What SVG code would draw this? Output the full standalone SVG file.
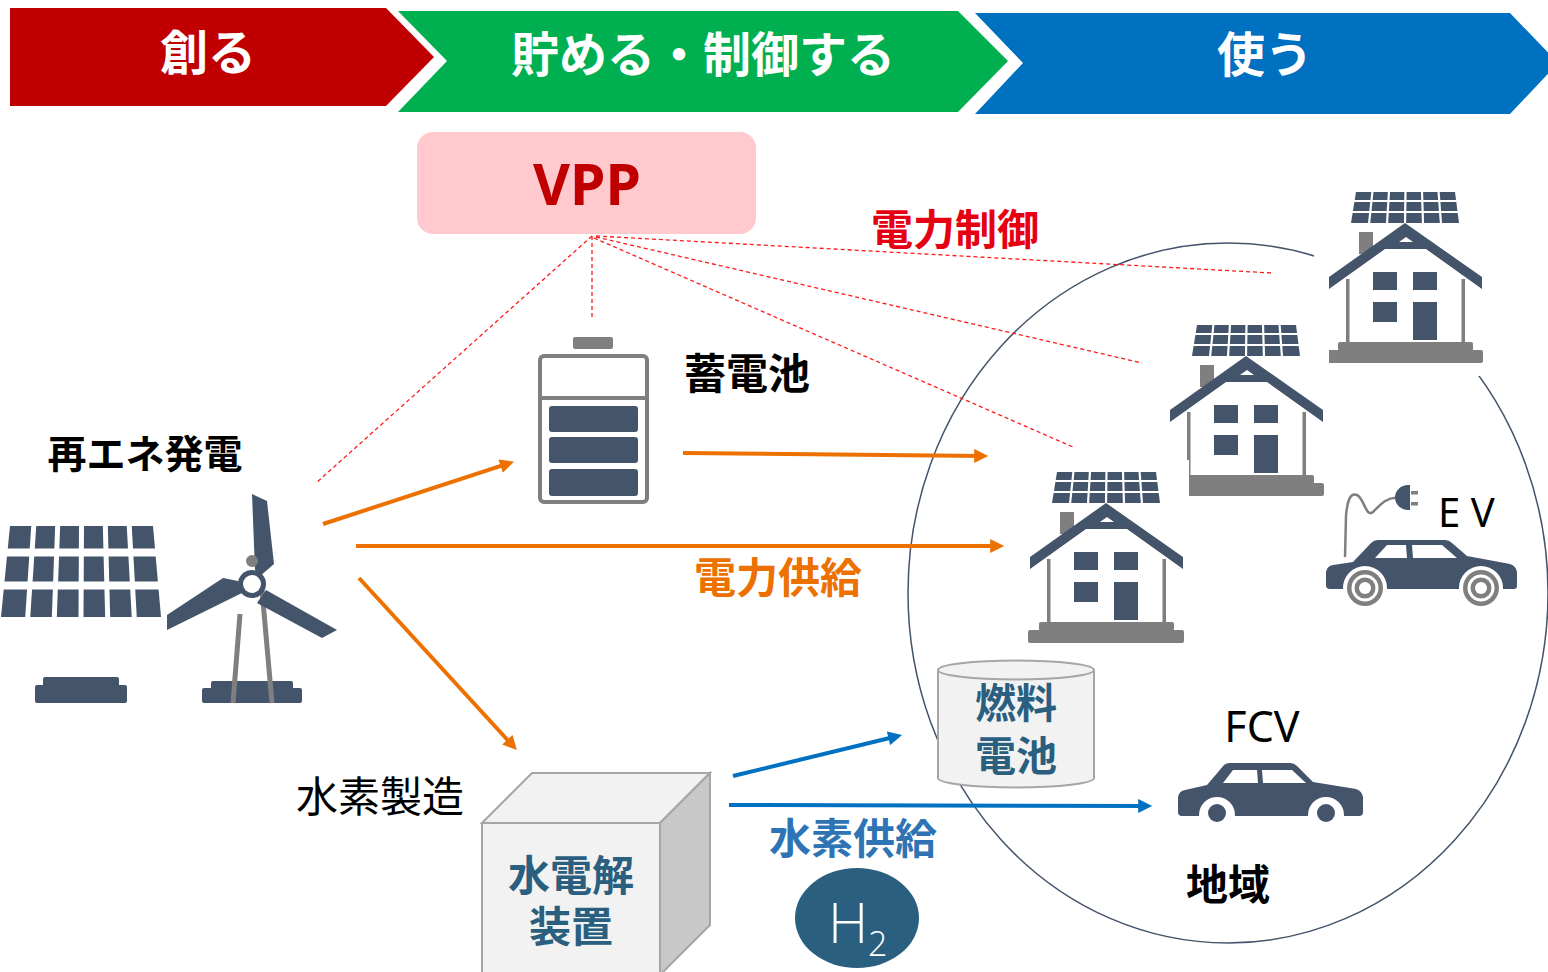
<svg xmlns="http://www.w3.org/2000/svg" xmlns:xlink="http://www.w3.org/1999/xlink" width="1548" height="972" viewBox="0 0 1548 972">
  <style>
    .jp { font-family: 'Noto Sans CJK JP', 'Noto Sans', sans-serif; }
    .b { font-weight: bold; }
    .dark { fill: #44546A; }
    .gray { fill: #7F7F7F; }
    .white { fill: #FFFFFF; }
    .ctrl { stroke: #FF1A1A; stroke-width: 1.3; stroke-dasharray: 4 3; fill: none; }
    .power { stroke: #EC7100; stroke-width: 4; fill: none; marker-end: url(#arrow-orange); }
    .h2flow { stroke: #0070C0; stroke-width: 4; fill: none; marker-end: url(#arrow-blue); }
    .vessel { fill: #F2F2F2; stroke: #A6A6A6; stroke-width: 2; }
    .teal { fill: #2A5F7F; }
  </style>
  <defs>
    <marker id="arrow-orange" viewBox="0 0 10 10" markerUnits="userSpaceOnUse" markerWidth="16" markerHeight="14" refX="7" refY="5" orient="auto">
      <path d="M0,0 L10,5 L0,10 Z" fill="#EC7100"/>
    </marker>
    <marker id="arrow-blue" viewBox="0 0 10 10" markerUnits="userSpaceOnUse" markerWidth="16" markerHeight="14" refX="7" refY="5" orient="auto">
      <path d="M0,0 L10,5 L0,10 Z" fill="#0070C0"/>
    </marker>

    <!-- house with rooftop solar, local origin at top-left -->
    <g id="house-icon">
      <rect x="-6" y="0" width="174" height="196" fill="#FFFFFF"/>
      <polygon class="dark" points="36,12 135,12 139,43 31,43"/>
      <g stroke="#FFFFFF" stroke-width="2.2">
        <line x1="28" y1="21" x2="142" y2="21"/>
        <line x1="28" y1="32" x2="142" y2="32"/>
        <line x1="52.5" y1="11" x2="49" y2="44"/>
        <line x1="69" y1="11" x2="67" y2="44"/>
        <line x1="85.5" y1="11" x2="85" y2="44"/>
        <line x1="102" y1="11" x2="103" y2="44"/>
        <line x1="118.5" y1="11" x2="121" y2="44"/>
      </g>
      <rect class="gray" x="39" y="52" width="14" height="22"/>
      <path class="dark" fill-rule="evenodd" d="M9,97 L85,43 L162,97 L162,109 L106,69 L65,69 L9,109 Z M79,62 L86,57 L93,62 Z"/>
      <rect class="gray" x="26" y="99" width="3.5" height="63"/>
      <rect class="gray" x="141.5" y="99" width="3.5" height="63"/>
      <rect class="dark" x="53" y="92" width="24" height="18"/>
      <rect class="dark" x="93" y="92" width="24" height="18"/>
      <rect class="dark" x="53" y="122" width="24" height="20"/>
      <rect class="dark" x="93" y="122" width="24" height="38"/>
      <rect class="gray" x="18" y="162" width="135" height="9" rx="2"/>
      <rect class="gray" x="7" y="170" width="156" height="13" rx="2"/>
    </g>
  </defs>

  <rect width="1548" height="972" fill="#FFFFFF"/>

  <!-- process stages -->
  <g id="stage-create">
    <polygon points="10,8 386,8 434,57 386,106 10,106" fill="#C00000"/>
    <text class="jp b" x="208" y="70" font-size="48" fill="#FFFFFF" text-anchor="middle">創る</text>
  </g>
  <g id="stage-store">
    <polygon points="398,11 958,11 1008,61 958,112 398,112 447,61" fill="#00B050"/>
    <text class="jp b" x="703" y="72" font-size="48" fill="#FFFFFF" text-anchor="middle">貯める・制御する</text>
  </g>
  <g id="stage-use">
    <polygon points="975,13 1510,13 1558,63 1510,114 975,114 1023,63" fill="#0070C0"/>
    <text class="jp b" x="1265" y="72" font-size="48" fill="#FFFFFF" text-anchor="middle">使う</text>
  </g>

  <!-- community boundary -->
  <g id="community">
    <ellipse cx="1228" cy="593" rx="320" ry="350" fill="none" stroke="#44546A" stroke-width="1.5"/>
  </g>

  <!-- connectors -->
  <g id="connectors">
    <path class="ctrl" d="M592,236 L316,483"/>
    <path class="ctrl" d="M592,236 L592,318"/>
    <path class="ctrl" d="M596,236 L1272,273"/>
    <path class="ctrl" d="M596,237 L1142,363"/>
    <path class="ctrl" d="M594,238 L1073,447"/>
    <path class="power" d="M323,524 L510,463"/>
    <path class="power" d="M356,546 L1000,546"/>
    <path class="power" d="M359,578 L514,747"/>
    <path class="power" d="M683,453 L984,456"/>
    <path class="h2flow" d="M733,776 L898,736"/>
    <path class="h2flow" d="M729,805 L1148,806"/>
  </g>

  <!-- VPP -->
  <g id="vpp">
    <rect x="417" y="132" width="339" height="102" rx="16" fill="#FFC9CE"/>
    <text x="587" y="205" font-family="'Noto Sans', 'Noto Sans CJK JP', sans-serif" font-weight="bold" font-size="57" fill="#C00000" text-anchor="middle">VPP</text>
  </g>
  <g id="label-control">
    <text class="jp b" x="955" y="245" font-size="42" fill="#E60012" text-anchor="middle">電力制御</text>
  </g>

  <!-- renewable generation -->
  <g id="renewables">
    <polygon class="dark" points="10,526 153,526 161,617 1,617"/>
    <g stroke="#FFFFFF">
      <line x1="0" y1="552.5" x2="162" y2="552.5" stroke-width="8"/>
      <line x1="0" y1="585.5" x2="162" y2="585.5" stroke-width="8"/>
      <g stroke-width="5">
        <line x1="33.8" y1="525" x2="27.7" y2="618"/>
        <line x1="57.7" y1="525" x2="54.3" y2="618"/>
        <line x1="81.5" y1="525" x2="81" y2="618"/>
        <line x1="105.3" y1="525" x2="107.7" y2="618"/>
        <line x1="129.2" y1="525" x2="134.3" y2="618"/>
      </g>
    </g>
    <rect class="dark" x="43" y="677" width="76" height="12" rx="2"/>
    <rect class="dark" x="35" y="685" width="92" height="18" rx="2"/>

    <rect class="dark" x="211" y="681" width="82" height="10" rx="2"/>
    <rect class="dark" x="202" y="688" width="100" height="15" rx="2"/>
    <line x1="240" y1="614" x2="233" y2="703" stroke="#7F7F7F" stroke-width="5"/>
    <line x1="262" y1="590" x2="272" y2="703" stroke="#7F7F7F" stroke-width="5"/>
    <polygon class="dark" points="252,494 267,501 274,564 259,577 255,570"/>
    <polygon class="dark" points="167,615 167,630 242,593 238,581 223,578"/>
    <polygon class="dark" points="266,590 257,603 322,638 337,630"/>
    <circle class="gray" cx="252" cy="561" r="6"/>
    <circle class="dark" cx="252" cy="584" r="14"/>
    <circle class="white" cx="252" cy="584" r="9"/>
    <text class="jp b" x="145" y="468" font-size="39" fill="#000000" text-anchor="middle">再エネ発電</text>
  </g>

  <!-- storage battery -->
  <g id="battery">
    <rect class="gray" x="573" y="337" width="40" height="12" rx="2"/>
    <rect x="540" y="356" width="107" height="146" rx="4" fill="#FFFFFF" stroke="#7F7F7F" stroke-width="4"/>
    <line x1="540" y1="398" x2="647" y2="398" stroke="#7F7F7F" stroke-width="4"/>
    <rect class="dark" x="549" y="406" width="89" height="26" rx="3"/>
    <rect class="dark" x="549" y="437" width="89" height="26" rx="3"/>
    <rect class="dark" x="549" y="469" width="89" height="27" rx="3"/>
    <text class="jp b" x="747" y="389" font-size="42" fill="#000000" text-anchor="middle">蓄電池</text>
  </g>

  <!-- supply labels -->
  <g id="label-power">
    <text class="jp b" x="778" y="593" font-size="42" fill="#EC7100" text-anchor="middle">電力供給</text>
  </g>
  <g id="label-hydrogen">
    <text class="jp b" x="853" y="854" font-size="42" fill="#2E74B5" text-anchor="middle">水素供給</text>
  </g>

  <!-- homes -->
  <g id="house-top">
    <use xlink:href="#house-icon" href="#house-icon" transform="translate(1320,180)"/>
  </g>
  <g id="house-middle">
    <use xlink:href="#house-icon" href="#house-icon" transform="translate(1161,313)"/>
  </g>
  <g id="house-left">
    <use xlink:href="#house-icon" href="#house-icon" transform="translate(1021,460)"/>
  </g>

  <!-- electric vehicle -->
  <g id="ev">
    <path d="M1398,498 C1388,496 1380,505 1373,512 C1366,518 1364,498 1357,495 C1350,492 1347,502 1346,516 L1345,557" fill="none" stroke="#7F7F7F" stroke-width="2.5"/>
    <path class="dark" d="M1410,485 L1408,485 A13,12.5 0 0 0 1408,510 L1410,510 Z"/>
    <rect class="gray" x="1411" y="491" width="7" height="3.5"/>
    <rect class="gray" x="1411" y="502" width="7" height="3.5"/>
    <path class="dark" d="M1353,562 L1371,543 Q1374,540 1378,540 L1445,540 Q1449,540 1452,543 L1467,556 L1510,564 Q1516,566 1517,572 L1517,586 Q1517,589 1514,589 L1330,589 Q1326,589 1326,585 L1326,572 Q1327,566 1333,565 Z"/>
    <polygon class="white" points="1375,558 1387,545 1406,545 1407,558"/>
    <polygon class="white" points="1412,545 1442,545 1457,558 1413,558"/>
    <circle class="white" cx="1365" cy="588" r="22"/>
    <circle class="white" cx="1481" cy="588" r="22"/>
    <circle class="gray" cx="1365" cy="588" r="18"/>
    <circle class="white" cx="1365" cy="588" r="13.5"/>
    <circle class="gray" cx="1365" cy="588" r="10.5"/>
    <circle class="white" cx="1365" cy="588" r="6"/>
    <circle class="gray" cx="1481" cy="588" r="18"/>
    <circle class="white" cx="1481" cy="588" r="13.5"/>
    <circle class="gray" cx="1481" cy="588" r="10.5"/>
    <circle class="white" cx="1481" cy="588" r="6"/>
    <text x="1438" y="527" font-family="'Noto Sans', sans-serif" font-size="40" fill="#000000">E V</text>
  </g>

  <!-- fuel cell vehicle -->
  <g id="fcv">
    <path class="dark" d="M1207,785 L1224,765 Q1226,763 1230,763 L1290,763 Q1294,763 1297,766 L1313,782 L1356,789 Q1362,791 1363,797 L1363,812 Q1363,816 1359,816 L1182,816 Q1178,816 1178,812 L1178,797 Q1179,791 1185,790 Z"/>
    <polygon class="white" points="1223,783 1233,770 1257,770 1258,783"/>
    <polygon class="white" points="1262,770 1292,770 1306,783 1263,783"/>
    <circle class="white" cx="1217" cy="815" r="18"/>
    <circle class="white" cx="1326" cy="815" r="18"/>
    <circle class="dark" cx="1217" cy="813" r="9"/>
    <circle class="dark" cx="1326" cy="813" r="9"/>
    <text x="1262" y="742" font-family="'Noto Sans', sans-serif" font-size="43" fill="#000000" text-anchor="middle">FCV</text>
  </g>

  <!-- fuel cell -->
  <g id="fuel-cell">
    <path class="vessel" d="M938,670 L938,778 A78,9.5 0 0 0 1094,778 L1094,670"/>
    <ellipse class="vessel" cx="1016" cy="670" rx="78" ry="9.5"/>
    <text class="jp b teal" font-size="41" text-anchor="middle"><tspan x="1016" y="718">燃料</tspan><tspan x="1016" y="771">電池</tspan></text>
  </g>

  <!-- electrolyser -->
  <g id="electrolyser">
    <polygon points="482,823 532,773 710,773 660,823" fill="#F2F2F2" stroke="#A6A6A6" stroke-width="2"/>
    <polygon points="660,823 710,773 710,925 660,975" fill="#C8C8C8" stroke="#A6A6A6" stroke-width="2"/>
    <rect x="482" y="823" width="178" height="155" fill="#F2F2F2" stroke="#A6A6A6" stroke-width="2"/>
    <text class="jp b teal" font-size="42" text-anchor="middle"><tspan x="571" y="891">水電解</tspan><tspan x="571" y="942">装置</tspan></text>
    <text class="jp" x="380" y="812" font-size="42" fill="#000000" text-anchor="middle">水素製造</text>
  </g>

  <!-- hydrogen -->
  <g id="hydrogen">
    <ellipse class="teal" cx="857" cy="918" rx="62" ry="50"/>
    <text x="828" y="943" font-family="'Open Sans', 'Noto Sans', sans-serif" font-weight="300" font-size="56" fill="#FFFFFF">H</text>
    <text x="868" y="956" font-family="'Open Sans', 'Noto Sans', sans-serif" font-weight="300" font-size="34" fill="#FFFFFF">2</text>
  </g>

  <g id="label-region">
    <text class="jp b" x="1228" y="900" font-size="42" fill="#000000" text-anchor="middle">地域</text>
  </g>
</svg>
